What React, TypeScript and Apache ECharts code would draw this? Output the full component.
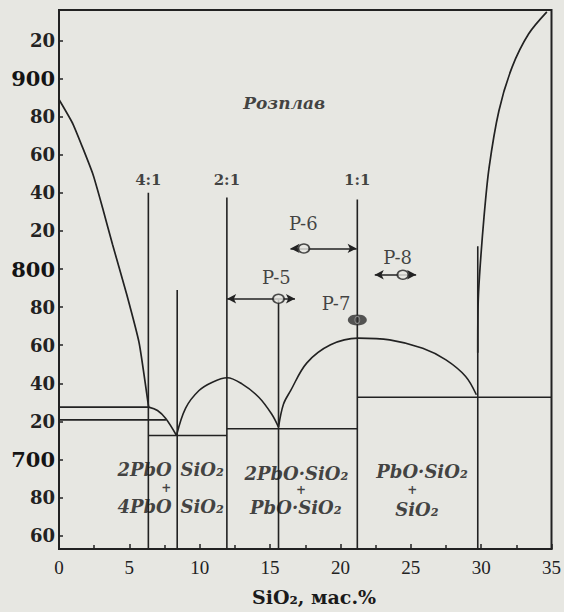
import React, { useEffect, useRef } from "react";
import * as echarts from "echarts";

// ---------- data (SiO2 mass %, temperature °C) ----------
const yLabelValues = [660, 680, 700, 720, 740, 760, 780, 800, 820, 840, 860, 880, 900, 920];

const liquidusPbO = [[0, 889], [1.0, 876], [2.4, 850], [3.1, 832], [3.8, 813], [4.8, 787], [5.7, 761], [6.37, 727.5]];
const liquidus4to1 = [[6.37, 727.5], [7.0, 725.7], [7.6, 721.4], [8.35, 712.6]];
const liquidus2to1 = [[8.35, 712.6], [9.0, 727], [9.95, 736.2], [10.9, 740.6], [11.95, 742.9], [13.0, 739.7], [14.2, 732.7], [15.1, 724], [15.6, 717]];
const liquidus1to1 = [[15.6, 717], [15.95, 729], [16.45, 736], [17.6, 750.6], [19.3, 760.2], [21.25, 763.7], [23.5, 762.8], [25.85, 758.4], [27.5, 752.3], [28.9, 743.6], [29.66, 734]];
const liquidusSiO2 = [[29.76, 756], [29.78, 780], [29.88, 796], [30.2, 827], [30.56, 853], [31.26, 883], [32.2, 906], [33.38, 923.5], [34.67, 935]];

const solidusLines = [
  [[0, 727.5], [6.37, 727.5]],
  [[0, 720.8], [7.6, 720.8]],
  [[6.35, 712.6], [11.93, 712.6]],
  [[11.93, 716.1], [21.2, 716.1]],
  [[21.2, 732.7], [35, 732.7]],
];

const compositionLines = [
  [[6.35, 840], [6.35, 653]],
  [[8.4, 789], [8.4, 653]],
  [[11.93, 837.5], [11.93, 653]],
  [[15.6, 784], [15.6, 653]],
  [[21.2, 836.5], [21.2, 653]],
  [[29.76, 812], [29.76, 653]],
];

const ratioLabels = [
  { text: "4:1", x: 6.35, t: 847 },
  { text: "2:1", x: 11.93, t: 847 },
  { text: "1:1", x: 21.2, t: 847 },
];

const sampleLabels = [
  { text: "P-5", x: 15.45, t: 795.7 },
  { text: "P-6", x: 17.36, t: 823.9 },
  { text: "P-7", x: 19.69, t: 781.9 },
  { text: "P-8", x: 24.07, t: 806 },
];

const sampleArrows = [
  { from: 11.95, to: 16.77, t: 784.4, circle: 15.6 },
  { from: 16.45, to: 21.15, t: 810.8, circle: 17.4 },
  { from: 22.44, to: 25.38, t: 797, circle: 24.44 },
];

const sampleP7 = [21.2, 773.3];

const meltLabel = { text: "Розплав", x: 16.0, t: 887.4 };

const phaseLabelsCenter = [
  { text: "2PbO·SiO₂", x: 16.87, t: 692.7 },
  { text: "PbO·SiO₂", x: 16.83, t: 674.8 },
  { text: "PbO·SiO₂", x: 25.8, t: 693.7 },
  { text: "SiO₂", x: 25.44, t: 673.8 },
];
const plusLabels = [
  { text: "+", x: 7.62, t: 685.2 },
  { text: "+", x: 17.2, t: 684.0 },
  { text: "+", x: 25.1, t: 684.0 },
];
const phaseLabelsLeftOfLine = [
  { text: "2PbO", x: 8.05, t: 694.8 },
  { text: "4PbO", x: 8.05, t: 675.3 },
];
const phaseLabelsRightOfLine = [
  { text: "SiO₂", x: 8.6, t: 694.8 },
  { text: "SiO₂", x: 8.6, t: 675.3 },
];

// ---------- styles ----------
const INK = "#222222";
const BG = "#e7e7e2";
const SERIF_B = "DejaVu Serif";
const SERIF = "Liberation Serif";

function lineSeries(data: number[][], width = 1.6, smooth: number | boolean = false) {
  return {
    type: "line",
    data,
    symbol: "none",
    smooth,
    silent: true,
    z: 3,
    lineStyle: { color: INK, width },
  };
}

function textSeries(items: { text: string; x: number; t: number }[], position: string, font: any) {
  return {
    type: "scatter",
    symbolSize: 1,
    silent: true,
    z: 6,
    itemStyle: { color: "rgba(0,0,0,0)" },
    label: { show: true, position, distance: 0, color: "#161616", ...font },
    data: items.map((it) => ({ value: [it.x, it.t], label: { formatter: it.text } })),
  };
}

export default function App() {
  const ref = useRef<HTMLDivElement>(null);

  useEffect(() => {
    if (!ref.current) return;
    const chart = echarts.init(ref.current, null, { renderer: "svg" });

    const phaseFont = { fontFamily: SERIF_B, fontStyle: "italic", fontSize: 18, fontWeight: "bold", lineHeight: 18 };

    const series: any[] = [];
    series.push(lineSeries(liquidusPbO, 1.7, 0.15));
    [liquidus4to1, liquidus2to1, liquidus1to1].forEach((d) => series.push(lineSeries(d, 1.6, 0.35)));
    series.push(lineSeries(liquidusSiO2, 1.7, 0.3));
    solidusLines.forEach((d) => series.push(lineSeries(d, 1.6)));
    compositionLines.forEach((d) => series.push(lineSeries(d, 1.6)));

    // arrows
    series.push({
      type: "line",
      data: [],
      silent: true,
      z: 4,
      markLine: {
        silent: true,
        symbol: ["arrow", "arrow"],
        symbolSize: [7, 9],
        label: { show: false },
        lineStyle: { color: INK, width: 1.6, type: "solid" },
        data: sampleArrows.map((a) => [{ coord: [a.from, a.t] }, { coord: [a.to, a.t] }]),
      },
    });
    // circles on arrows
    series.push({
      type: "scatter",
      silent: true,
      z: 5,
      symbol: "circle",
      symbolSize: [11, 9],
      itemStyle: { color: BG, borderColor: INK, borderWidth: 1.7 },
      data: sampleArrows.map((a) => [a.circle, a.t]),
    });
    // P-7 ellipse
    series.push({
      type: "scatter",
      silent: true,
      z: 5,
      symbol: "circle",
      symbolSize: [19, 11],
      itemStyle: { color: "#2e2e2e" },
      data: [sampleP7],
    });
    series.push({
      type: "scatter",
      silent: true,
      z: 6,
      symbol: "circle",
      symbolSize: [5, 7],
      itemStyle: { color: "rgba(0,0,0,0)", borderColor: "#9a9a9a", borderWidth: 1 },
      data: [sampleP7],
    });

    series.push(textSeries(ratioLabels, "inside", { fontFamily: SERIF_B, fontWeight: "bold", fontSize: 15 }));
    series.push(textSeries(sampleLabels, "inside", { fontFamily: SERIF_B, fontSize: 18 }));
    series.push(textSeries([meltLabel], "inside", { fontFamily: SERIF_B, fontStyle: "italic", fontWeight: "bold", fontSize: 17 }));
    series.push(textSeries(phaseLabelsCenter, "inside", phaseFont));
    series.push(textSeries(plusLabels, "inside", { fontFamily: SERIF_B, fontWeight: "bold", fontSize: 12, lineHeight: 12 }));
    series.push(textSeries(phaseLabelsLeftOfLine, "left", phaseFont));
    series.push(textSeries(phaseLabelsRightOfLine, "right", phaseFont));

    chart.setOption({
      animation: false,
      backgroundColor: BG,
      grid: { left: 59, right: 9, top: 10, bottom: 63, show: true, borderColor: INK, borderWidth: 2, backgroundColor: "transparent" },
      xAxis: {
        type: "value",
        min: 0,
        max: 35,
        interval: 5,
        axisLine: { lineStyle: { color: INK, width: 2 } },
        axisTick: { inside: true, length: 5, lineStyle: { color: INK, width: 1.5 } },
        minorTick: { show: true, splitNumber: 2, length: 4, lineStyle: { color: INK, width: 1.5 } },
        splitLine: { show: false },
        axisLabel: { margin: 9, color: INK, fontFamily: SERIF, fontSize: 19 },
      },
      yAxis: {
        type: "value",
        min: 653,
        max: 936,
        axisLine: { lineStyle: { color: INK, width: 2 } },
        axisTick: { inside: true, length: 4, customValues: yLabelValues, lineStyle: { color: INK, width: 1.5 } },
        splitLine: { show: false },
        axisLabel: {
          margin: 4,
          customValues: yLabelValues,
          formatter: (v: number) => (v % 100 === 0 ? `{big|${v}}` : `{small|${String(v % 100).padStart(2, "0")}}`),
          rich: {
            big: { fontFamily: SERIF_B, fontWeight: "bold", fontSize: 21, color: "#141414" },
            small: { fontFamily: SERIF_B, fontWeight: "bold", fontSize: 18, color: "#222" },
          },
        },
      },
      graphic: [
        {
          type: "text",
          x: 314,
          y: 597,
          style: {
            text: "SiO₂, мас.%",
            fill: "#1a1a1a",
            font: `bold 19px "${SERIF_B}"`,
            textAlign: "center",
            textVerticalAlign: "middle",
          },
        },
      ],
      series,
    });

    return () => chart.dispose();
  }, []);

  return (
    <div style={{ position: "fixed", left: 0, top: 0, width: 564, height: 612, background: BG }}>
      <div ref={ref} style={{ width: 564, height: 612 }} />
    </div>
  );
}
